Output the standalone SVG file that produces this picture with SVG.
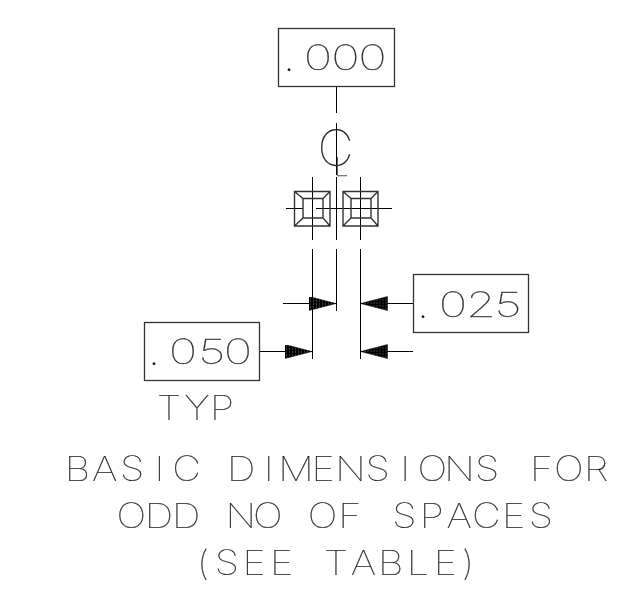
<svg xmlns="http://www.w3.org/2000/svg" width="623" height="592" viewBox="0 0 623 592">
<style>
.box{fill:#fff;stroke:#333;stroke-width:1.3}
.ln{stroke:#000;stroke-width:1;fill:none}
.sq{stroke:#333;stroke-width:1.4;fill:none}
.t{font-family:Inter,"Liberation Sans",sans-serif;font-weight:100;font-size:34.5px;fill:#111;text-anchor:middle;stroke:#555;stroke-width:.25}
.dot{font-size:15px;font-weight:700}
</style>
<defs>
<filter id="g" x="0" y="0" width="1" height="1" color-interpolation-filters="sRGB"><feOffset dx="0" dy="0"/></filter>
<pattern id="h" width="3" height="3" patternUnits="userSpaceOnUse"><rect width="3" height="3" fill="#000"/><rect x="1" y="1" width="1" height="1" fill="#777"/></pattern>
<marker id="a" markerUnits="userSpaceOnUse" markerWidth="28" markerHeight="16" refX="27" refY="7" orient="auto"><path d="M0 0L27 7L0 14Z" fill="url(#h)" stroke="#000" stroke-width=".5"/></marker>
</defs>
<rect width="623" height="592" fill="#fff"/>
<g id="connectors">
<path class="ln" d="M336.500 86V113M336.500 123V175M336.500 177V240M336.500 249V311M312.500 177V240M312.500 249V359M360.500 177V240M360.500 249V359"/>
<path class="ln" d="M286 208.500H303M316 208.500H392"/>
<line class="ln" x1="283" y1="303.500" x2="336" y2="303.500" marker-end="url(#a)"/>
<line class="ln" x1="413" y1="303.500" x2="360.500" y2="303.500" marker-end="url(#a)"/>
<line class="ln" x1="413" y1="351.500" x2="360.500" y2="351.500" marker-end="url(#a)"/>
<line class="ln" x1="259" y1="351.500" x2="312" y2="351.500" marker-end="url(#a)"/>
</g>
<g id="node-000">
<rect class="box" x="278.500" y="28.500" width="116" height="58"/>
<text class="t dot" x="289" y="71" filter="url(#g)">.</text>
<text class="t" transform="scale(1.4,1)" x="227.100 246.800 266.100" y="70" filter="url(#g)">000</text>
</g>
<g id="node-centerline">
<text class="t" filter="url(#g)"><tspan x="335.500" y="166" style="font-size:50px">C</tspan><tspan x="341.500" y="175.500" style="font-size:25px">L</tspan></text>
</g>
<g id="pad-left">
<path class="sq" d="M294.500 191.500H330V226H294.500ZM303 198.500H323V218H303ZM294.500 191.500L303 198.500M330 191.500L323 198.500M294.500 226L303 218M330 226L323 218"/>
</g>
<g id="pad-right">
<path class="sq" d="M343 191.500H378V226H343ZM351 198.500H371V218H351ZM343 191.500L351 198.500M378 191.500L371 198.500M343 226L351 218M378 226L371 218"/>
</g>
<g id="node-025">
<rect class="box" x="413.500" y="274.500" width="115" height="58"/>
<text class="t dot" x="423" y="318" filter="url(#g)">.</text>
<text class="t" transform="scale(1.4,1)" x="323.600 343.600 362.900" y="317" filter="url(#g)">025</text>
</g>
<g id="node-050">
<rect class="box" x="144.500" y="322.500" width="115" height="58"/>
<text class="t dot" x="154" y="365" filter="url(#g)">.</text>
<text class="t" transform="scale(1.4,1)" x="130.700 151.400 170" y="364" filter="url(#g)">050</text>
</g>
<g id="note" transform="scale(1.15,1)" filter="url(#g)">
<text class="t" x="147 171.300 193" y="420">TYP</text>
<text class="t" x="67.400 91.100 114.900 138.600 162.300 186.100 209.800 233.600 257.300 281 304.800 328.500 352.300 376 399.700 423.500 447.200 471 494.700 518.400" y="481">BASIC DIMENSIONS FOR</text>
<text class="t" x="114.300 138.100 161.800 185.600 209.300 233 256.800 280.500 304.300 328 351.700 375.500 399.200 423 446.700 470.400" y="528">ODD NO OF SPACES</text>
<text class="t" x="176.500 197.300 221 244.800 268.500 292.200 316 339.700 363.500 387.200 407" y="575">(SEE TABLE)</text>
</g>
</svg>
